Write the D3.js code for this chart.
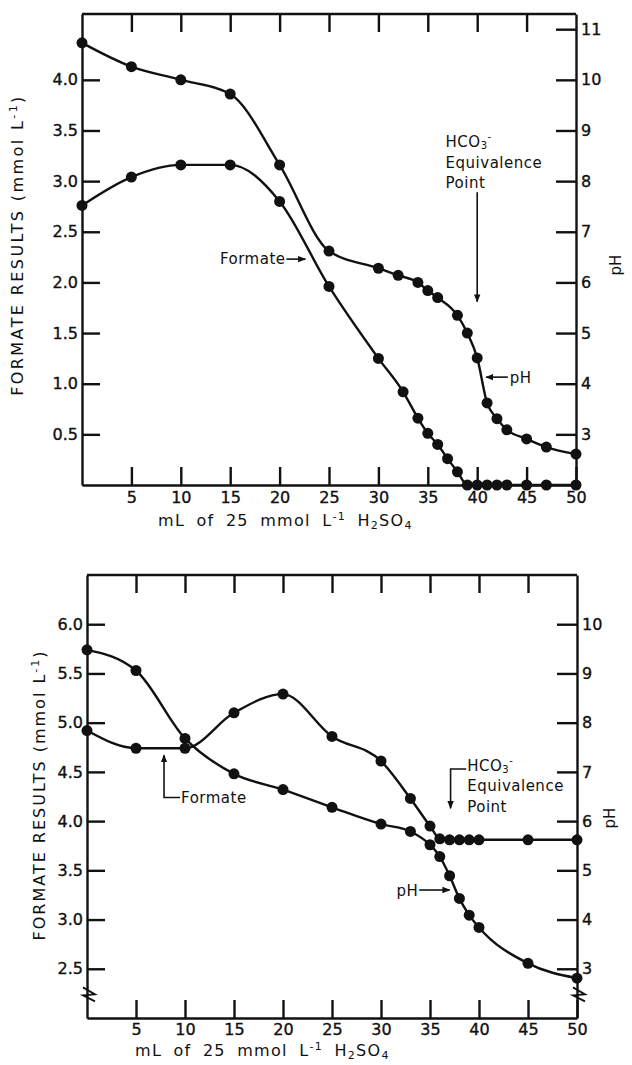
<!DOCTYPE html>
<html lang="en">
<head>
<meta charset="utf-8">
<title>Formate results vs H2SO4</title>
<script src="https://d3js.org/d3.v7.min.js"></script>
<style>
  body { margin: 0; background: #fff; }
  svg { display: block; }
  text { font-family: "DejaVu Sans", sans-serif; fill: #111; }
  .tick text { font-size: 16px; stroke: #111; stroke-width: 0.35; }
  .domain, .tick line { stroke: #111; stroke-width: 2.4; }
  .note { font-size: 15px; letter-spacing: 0.5px; }
</style>
</head>
<body>
<svg width="632" height="1065"></svg>
<script>
// x values: mL of 25 mmol/L H2SO4
var xTicks = [5, 10, 15, 20, 25, 30, 35, 40, 45, 50];
var topEdgeTicks = [5, 10, 15, 20, 25, 30, 35, 40, 45];

// upper panel
var topPhX = [0, 5, 10, 15, 20, 25, 30, 32, 34, 35, 36, 38, 39, 40, 41, 42, 43, 45, 47, 50];
var topPh = [10.73, 10.26, 10.0, 9.72, 8.32, 6.62, 6.28, 6.14, 6.0, 5.84, 5.70, 5.35, 5.0, 4.51, 3.62, 3.31, 3.09, 2.91, 2.75, 2.61];
var topFormateX = [0, 5, 10, 15, 20, 25, 30, 32.5, 34, 35, 36, 37, 38, 39, 40, 41, 42, 43, 45, 47, 50];
var topFormate = [2.76, 3.04, 3.16, 3.16, 2.80, 1.96, 1.25, 0.92, 0.66, 0.51, 0.40, 0.26, 0.13, 0, 0, 0, 0, 0, 0, 0, 0];
var topFormateTicks = [0.5, 1.0, 1.5, 2.0, 2.5, 3.0, 3.5, 4.0];
var topPhTicks = [3, 4, 5, 6, 7, 8, 9, 10, 11];

// lower panel
var botPhX = [0, 5, 10, 15, 20, 25, 30, 33, 35, 36, 37, 38, 39, 40, 45, 50];
var botPh = [9.48, 9.06, 7.68, 6.96, 6.64, 6.28, 5.94, 5.79, 5.52, 5.28, 4.89, 4.43, 4.09, 3.84, 3.11, 2.81];
var botFormateX = [0, 5, 10, 15, 20, 25, 30, 33, 35, 36, 37, 38, 39, 40, 45, 50];
var botFormate = [4.92, 4.74, 4.74, 5.10, 5.29, 4.86, 4.61, 4.23, 3.95, 3.82, 3.81, 3.81, 3.81, 3.81, 3.81, 3.81];
var botFormateTicks = [2.5, 3.0, 3.5, 4.0, 4.5, 5.0, 5.5, 6.0];
var botPhTicks = [3, 4, 5, 6, 7, 8, 9, 10];

var svg = d3.select("svg");

svg.append("defs").append("marker")
    .attr("id", "arrow")
    .attr("viewBox", "0 0 10 10")
    .attr("refX", 9).attr("refY", 5)
    .attr("markerWidth", 8).attr("markerHeight", 8)
    .attr("markerUnits", "userSpaceOnUse")
    .attr("orient", "auto")
    .append("path")
    .attr("d", "M0,1 L10,5 L0,9 Z")
    .attr("fill", "#111");

function zip(xs, ys) {
    return xs.map(function(v, i) { return [v, ys[i]]; });
}

function drawPanel(p) {
    var x = d3.scaleLinear().domain([0, 50]).range([p.left, p.right]);
    var fy = d3.scaleLinear().domain(p.fDomain).range([p.bottom, p.top]);
    var py = d3.scaleLinear().domain(p.phDomain).range([p.bottom, p.top]);
    var g = svg.append("g");

    // frame top line
    g.append("line")
        .attr("x1", p.left).attr("x2", p.right)
        .attr("y1", p.top).attr("y2", p.top)
        .attr("stroke", "#111").attr("stroke-width", 2.4);

    g.append("g")
        .attr("transform", "translate(0," + p.bottom + ")")
        .call(d3.axisBottom(x).tickValues(xTicks).tickSize(-18).tickSizeOuter(0).tickPadding(p.xPad).tickFormat(d3.format("d")));

    g.append("g")
        .attr("transform", "translate(0," + p.top + ")")
        .call(d3.axisTop(x).tickValues(topEdgeTicks).tickSize(-18).tickSizeOuter(0).tickFormat(""))
        .select(".domain").remove();

    g.append("g")
        .attr("transform", "translate(" + p.left + ",0)")
        .call(d3.axisLeft(fy).tickValues(p.fTicks).tickSize(-18).tickSizeOuter(0).tickPadding(4).tickFormat(d3.format(".1f")));

    g.append("g")
        .attr("transform", "translate(" + p.right + ",0)")
        .call(d3.axisRight(py).tickValues(p.phTicks).tickSize(-20).tickSizeOuter(0).tickPadding(5).tickFormat(d3.format("d")));

    g.selectAll(".tick text").attr("fill", "#111");

    // axis break marks
    if (p.breakAt) {
        [p.left, p.right].forEach(function(ax) {
            var yb = fy(p.breakAt);
            g.append("path")
                .attr("d", "M" + (ax - 4) + "," + (yb - 6) + " L" + (ax + 8) + "," + (yb + 1) + " L" + (ax - 4) + "," + (yb + 2) + " L" + (ax + 8) + "," + (yb + 8))
                .attr("fill", "none").attr("stroke", "#111").attr("stroke-width", 1.8);
        });
    }

    var series = [
        { pts: zip(p.phX, p.ph), y: py },
        { pts: zip(p.formateX, p.formate), y: fy }
    ];
    series.forEach(function(s) {
        var line = d3.line()
            .x(function(d) { return x(d[0]); })
            .y(function(d) { return s.y(d[1]); })
            .curve(d3.curveMonotoneX);
        g.append("path")
            .datum(s.pts)
            .attr("d", line)
            .attr("fill", "none")
            .attr("stroke", "#111")
            .attr("stroke-width", 2.4);
        g.selectAll(null)
            .data(s.pts)
            .enter()
            .append("circle")
            .attr("cx", function(d) { return x(d[0]); })
            .attr("cy", function(d) { return s.y(d[1]); })
            .attr("r", 5.5)
            .attr("fill", "#111");
    });

    // axis titles
    var lt = g.append("text")
        .attr("transform", "translate(" + p.ltX + "," + p.ltY + ") rotate(-90)")
        .attr("text-anchor", "middle")
        .attr("font-size", 16)
        .attr("letter-spacing", p.ltSpace);
    lt.append("tspan").text("FORMATE RESULTS  (mmol  L");
    lt.append("tspan").attr("dy", -6).attr("font-size", 11).text("-1");
    lt.append("tspan").attr("dy", 6).text(")");

    g.append("text")
        .attr("transform", "translate(" + p.rtX + "," + p.rtY + ") rotate(-90)")
        .attr("text-anchor", "middle")
        .attr("font-size", 15)
        .text("pH");

    var xt = g.append("text")
        .attr("x", p.xtX).attr("y", p.xtY)
        .attr("font-size", 16)
        .attr("letter-spacing", 1.3)
        .attr("word-spacing", 5);
    xt.append("tspan").text("mL of 25 mmol L");
    xt.append("tspan").attr("dy", -6).attr("font-size", 11).text("-1");
    xt.append("tspan").attr("dy", 6).text("  H");
    xt.append("tspan").attr("dy", 3).attr("font-size", 11).text("2");
    xt.append("tspan").attr("dy", -3).text("SO");
    xt.append("tspan").attr("dy", 3).attr("font-size", 11).text("4");

    p.notes(g, x, fy, py);
}

function arrow(g, x1, y1, x2, y2) {
    g.append("line")
        .attr("x1", x1).attr("y1", y1).attr("x2", x2).attr("y2", y2)
        .attr("stroke", "#111").attr("stroke-width", 1.6)
        .attr("marker-end", "url(#arrow)");
}

function note(g, xx, yy, s, anchor) {
    return g.append("text").attr("class", "note")
        .attr("x", xx).attr("y", yy)
        .attr("text-anchor", anchor || "start")
        .text(s);
}

function hco3(g, xx, yy) {
    var t = g.append("text").attr("class", "note").attr("x", xx).attr("y", yy);
    t.append("tspan").text("HCO");
    t.append("tspan").attr("dy", 2).attr("font-size", 10).text("3");
    t.append("tspan").attr("dy", -9).attr("font-size", 10).text("-");
}

drawPanel({
    top: 14, bottom: 485, left: 82, right: 576,
    fDomain: [0, 4.65], phDomain: [2, 11.3],
    fTicks: topFormateTicks, phTicks: topPhTicks,
    phX: topPhX, ph: topPh, formateX: topFormateX, formate: topFormate,
    xPad: 7,
    ltX: 23, ltY: 245, ltSpace: 2.4,
    rtX: 621, rtY: 265,
    xtX: 158, xtY: 526,
    notes: function(g, x, fy, py) {
        note(g, x(20.6), fy(2.23) + 5, "Formate", "end");
        arrow(g, x(20.7), fy(2.23), x(22.6), fy(2.23));

        hco3(g, x(36.8), py(8.67));
        note(g, x(36.8), py(8.26), "Equivalence");
        note(g, x(36.8), py(7.86), "Point");
        arrow(g, x(40), py(7.78), x(40), py(5.62));

        arrow(g, x(43.1), py(4.13), x(40.9), py(4.13));
        note(g, x(43.3), py(4.13) + 6, "pH");
    }
});

drawPanel({
    top: 575, bottom: 1018, left: 87, right: 577,
    fDomain: [2.0, 6.5], phDomain: [2, 11],
    fTicks: botFormateTicks, phTicks: botPhTicks,
    phX: botPhX, ph: botPh, formateX: botFormateX, formate: botFormate,
    xPad: 6, breakAt: 2.25,
    ltX: 45, ltY: 795, ltSpace: 2.0,
    rtX: 615, rtY: 818,
    xtX: 135, xtY: 1056,
    notes: function(g, x, fy, py) {
        g.append("path")
            .attr("d", "M" + x(9.5) + "," + fy(4.24) + " L" + x(7.86) + "," + fy(4.24) + " L" + x(7.86) + "," + fy(4.67))
            .attr("fill", "none").attr("stroke", "#111").attr("stroke-width", 1.6)
            .attr("marker-end", "url(#arrow)");
        note(g, x(9.6), fy(4.24) + 6, "Formate");

        g.append("path")
            .attr("d", "M" + x(38.7) + "," + fy(4.53) + " L" + x(37.1) + "," + fy(4.53) + " L" + x(37.1) + "," + fy(4.13))
            .attr("fill", "none").attr("stroke", "#111").attr("stroke-width", 1.6)
            .attr("marker-end", "url(#arrow)");
        hco3(g, x(38.8), fy(4.51));
        note(g, x(38.8), fy(4.31), "Equivalence");
        note(g, x(38.8), fy(4.09), "Point");

        note(g, x(33.8), fy(3.3) + 6, "pH", "end");
        arrow(g, x(33.9), fy(3.3), x(37.0), fy(3.3));
    }
});
</script>
</body>
</html>
